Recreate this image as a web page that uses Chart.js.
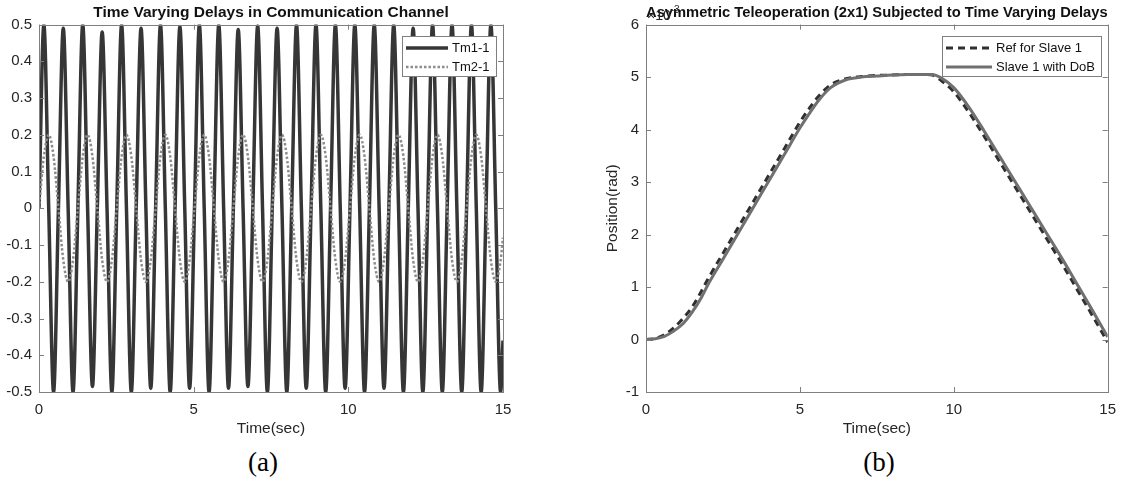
<!DOCTYPE html>
<html>
<head>
<meta charset="utf-8">
<script src="https://cdn.jsdelivr.net/npm/chart.js@4"></script>
<style>
  body { margin: 0; background: #fff; width: 1125px; height: 485px; position: relative; overflow: hidden; }
  canvas { position: absolute; top: 0; }
  #delayChart { left: 0; }
  #positionChart { left: 600px; }
  .caption { position: absolute; top: 447px; font: 27px "Liberation Serif", "Times New Roman", serif; color: #000; transform: translateX(-50%); }
</style>
</head>
<body>
<canvas id="delayChart" width="560" height="440"></canvas>
<canvas id="positionChart" width="525" height="440"></canvas>
<div class="caption" style="left:263px">(a)</div>
<div class="caption" style="left:879px">(b)</div>
<script>
// (a) delays at quarter periods of Tm1-1
const delayTime = [0, 0.157, 0.314, 0.471, 0.628, 0.785, 0.942, 1.100, 1.257, 1.414, 1.571, 1.728, 1.885, 2.042, 2.199, 2.356,
  2.513, 2.670, 2.827, 2.985, 3.142, 3.299, 3.456, 3.613, 3.770, 3.927, 4.084, 4.241, 4.398, 4.555, 4.712, 4.869,
  5.027, 5.184, 5.341, 5.498, 5.655, 5.812, 5.969, 6.126, 6.283, 6.440, 6.597, 6.754, 6.912, 7.069, 7.226, 7.383,
  7.540, 7.697, 7.854, 8.011, 8.168, 8.325, 8.482, 8.639, 8.796, 8.954, 9.111, 9.268, 9.425, 9.582, 9.739, 9.896,
  10.053, 10.210, 10.367, 10.524, 10.681, 10.838, 10.996, 11.153, 11.310, 11.467, 11.624, 11.781, 11.938, 12.095, 12.252, 12.409,
  12.566, 12.723, 12.881, 13.038, 13.195, 13.352, 13.509, 13.666, 13.823, 13.980, 14.137, 14.294, 14.451, 14.608, 14.765, 14.923, 15];
const tm1Delay = [0, 0.5, 0, -0.5, 0, 0.49, 0, -0.5, 0, 0.5, 0, -0.485, 0, 0.48, 0, -0.5,
  0, 0.5, 0, -0.5, 0, 0.49, 0, -0.49, 0, 0.5, 0, -0.5, 0, 0.495, 0, -0.49,
  0, 0.5, 0, -0.5, 0, 0.5, 0, -0.49, 0, 0.487, 0, -0.485, 0, 0.497, 0, -0.5,
  0, 0.49, 0, -0.5, 0, 0.5, 0, -0.49, 0, 0.5, 0, -0.5, 0, 0.5, 0, -0.49,
  0, 0.5, 0, -0.5, 0, 0.5, 0, -0.49, 0, 0.5, 0, -0.5, 0, 0.49, 0, -0.5,
  0, 0.5, 0, -0.5, 0, 0.5, 0, -0.5, 0, 0.5, 0, -0.5, 0, 0.5, 0, -0.5, -0.36];
const tm2Delay = [0, 0.141, 0.2, 0.141, 0, -0.141, -0.2, -0.141, 0, 0.141, 0.2, 0.141, 0, -0.141, -0.2, -0.141,
  0, 0.141, 0.2, 0.141, 0, -0.141, -0.2, -0.141, 0, 0.141, 0.2, 0.141, 0, -0.141, -0.2, -0.141,
  0, 0.141, 0.2, 0.141, 0, -0.141, -0.2, -0.141, 0, 0.141, 0.2, 0.141, 0, -0.141, -0.2, -0.141,
  0, 0.141, 0.2, 0.141, 0, -0.141, -0.2, -0.141, 0, 0.141, 0.2, 0.141, 0, -0.141, -0.2, -0.141,
  0, 0.141, 0.2, 0.141, 0, -0.141, -0.2, -0.141, 0, 0.141, 0.2, 0.141, 0, -0.141, -0.2, -0.141,
  0, 0.141, 0.2, 0.141, 0, -0.141, -0.2, -0.141, 0, 0.141, 0.2, 0.141, 0, -0.141, -0.2, -0.141, -0.08];
const delayXTicks = [0, 5, 10, 15];
const delayYTicks = [-0.5, -0.4, -0.3, -0.2, -0.1, 0, 0.1, 0.2, 0.3, 0.4, 0.5];

// (b) slave position (x10^-3 rad)
const posTime = [0, 0.3, 0.6, 0.9, 1.2, 1.5, 1.8, 2.0, 2.5, 3.0, 3.5, 4.0, 4.5, 5.0, 5.3, 5.6, 6.0, 6.5,
  7.0, 7.5, 8.0, 8.5, 9.0, 9.3, 9.6, 10.0, 10.5, 11.0, 11.5, 12.0, 12.5, 13.0, 13.5, 14.0, 14.5, 15.0];
const refSlave = [0, 0.02, 0.09, 0.22, 0.40, 0.62, 0.92, 1.14, 1.64, 2.14, 2.64, 3.14, 3.64, 4.14, 4.4, 4.63, 4.85, 4.97,
  5.01, 5.03, 5.04, 5.05, 5.05, 5.04, 4.93, 4.72, 4.32, 3.86, 3.38, 2.9, 2.42, 1.94, 1.46, 0.96, 0.46, -0.05];
const slaveDoB = [0, 0.015, 0.06, 0.16, 0.3, 0.52, 0.8, 1.03, 1.53, 2.03, 2.53, 3.03, 3.53, 4.03, 4.3, 4.55, 4.8, 4.95,
  5.0, 5.02, 5.04, 5.05, 5.05, 5.05, 4.98, 4.8, 4.42, 3.96, 3.48, 3.0, 2.52, 2.04, 1.56, 1.06, 0.56, 0.05];
const posXTicks = [0, 5, 10, 15];
const posYTicks = [-1, 0, 1, 2, 3, 4, 5, 6];

const FONT = '"Liberation Sans", Arial, Helvetica, sans-serif';
Chart.defaults.font.family = FONT;
Chart.defaults.color = '#262626';
const axisGrey = '#7f7f7f';

const pts = (xs, ys) => xs.map((x, i) => ({ x: x, y: ys[i] }));

// closed box with inward ticks like matlab
const boxAxes = {
  id: 'boxAxes',
  afterDatasetsDraw(chart) {
    const { ctx, chartArea: a, scales } = chart;
    ctx.save();
    ctx.strokeStyle = axisGrey;
    ctx.lineWidth = 1;
    ctx.beginPath();
    scales.x.ticks.forEach(t => {
      const px = Math.round(scales.x.getPixelForValue(t.value)) + 0.5;
      ctx.moveTo(px, a.bottom); ctx.lineTo(px, a.bottom - 5);
      ctx.moveTo(px, a.top); ctx.lineTo(px, a.top + 5);
    });
    scales.y.ticks.forEach(t => {
      const py = Math.round(scales.y.getPixelForValue(t.value)) + 0.5;
      ctx.moveTo(a.left, py); ctx.lineTo(a.left + 5, py);
      ctx.moveTo(a.right, py); ctx.lineTo(a.right - 5, py);
    });
    ctx.stroke();
    ctx.strokeRect(Math.round(a.left) + 0.5, Math.round(a.top) + 0.5,
      Math.round(a.right - a.left), Math.round(a.bottom - a.top));
    ctx.restore();
  }
};

// legend box inside the top right corner
const boxLegend = {
  id: 'boxLegend',
  afterDatasetsDraw(chart, args, opts) {
    const { ctx, chartArea: a } = chart;
    const items = chart.data.datasets;
    ctx.save();
    ctx.font = '13px ' + FONT;
    const textW = Math.max(...items.map(d => ctx.measureText(d.label).width));
    const w = Math.round(4 + opts.lineLen + 4 + textW + 6);
    const h = 40;
    const x = Math.round(a.right - 7 - w), y = Math.round(a.top + 11);
    ctx.fillStyle = '#fff';
    ctx.fillRect(x, y, w, h);
    ctx.strokeStyle = axisGrey;
    ctx.lineWidth = 1;
    ctx.strokeRect(x + 0.5, y + 0.5, w, h);
    items.forEach((d, i) => {
      const cy = y + 12 + i * 19;
      ctx.strokeStyle = d.borderColor;
      ctx.lineWidth = d.borderWidth;
      ctx.setLineDash(d.borderDash || []);
      ctx.beginPath();
      ctx.moveTo(x + 4, cy);
      ctx.lineTo(x + 4 + opts.lineLen, cy);
      ctx.stroke();
      ctx.setLineDash([]);
      ctx.fillStyle = '#111';
      ctx.textBaseline = 'middle';
      ctx.fillText(d.label, x + 8 + opts.lineLen, cy);
    });
    ctx.restore();
  }
};

// "x10^-3" multiplier above the y axis
const axisExponent = {
  id: 'axisExponent',
  afterDraw(chart, args, opts) {
    if (!opts.text) return;
    const { ctx, chartArea: a } = chart;
    ctx.save();
    ctx.fillStyle = '#262626';
    ctx.font = '14px ' + FONT;
    ctx.fillText('\u00d710', a.left + 1, a.top - 5);
    const w = ctx.measureText('\u00d710').width;
    ctx.font = '10px ' + FONT;
    ctx.fillText(opts.text, a.left + 1 + w, a.top - 12);
    ctx.restore();
  }
};

function axes(xTicks, yTicks, yMin, yMax, yWidth, yTitle) {
  return {
    x: {
      type: 'linear', min: 0, max: 15,
      afterBuildTicks: s => { s.ticks = xTicks.map(v => ({ value: v })); },
      ticks: { padding: 9, font: { size: 15 }, maxRotation: 0, callback: v => String(v) },
      grid: { display: false, tickLength: 0 }, border: { display: false },
      title: { display: true, text: 'Time(sec)', font: { size: 15.5 }, padding: { top: 0, bottom: 2 } },
      afterFit: s => { s.height = 48; }
    },
    y: {
      min: yMin, max: yMax,
      afterBuildTicks: s => { s.ticks = yTicks.map(v => ({ value: v })); },
      ticks: { padding: 7, font: { size: 15 }, callback: v => String(v) },
      grid: { display: false, tickLength: 0 }, border: { display: false },
      title: { display: !!yTitle, text: yTitle || '', font: { size: 15.5 }, padding: { top: 3, bottom: 0 } },
      afterFit: s => { s.width = yWidth; }
    }
  };
}

function titleOpts(text) {
  return { display: true, text: text, fullSize: false, color: '#111',
    font: { size: 15.5, weight: 'bold' }, padding: { top: 3, bottom: 3 } };
}

new Chart(document.getElementById('delayChart'), {
  type: 'line',
  data: {
    datasets: [
      { label: 'Tm1-1', data: pts(delayTime, tm1Delay), borderColor: '#363636', borderWidth: 3.5,
        pointRadius: 0, cubicInterpolationMode: 'monotone', clip: 0, order: 1 },
      { label: 'Tm2-1', data: pts(delayTime, tm2Delay), borderColor: '#8c8c8c', borderWidth: 2.5,
        borderDash: [2.5, 2], pointRadius: 0, cubicInterpolationMode: 'monotone', clip: 0, order: 0 }
    ]
  },
  options: {
    responsive: false, animation: false,
    layout: { padding: { right: 57 } },
    plugins: {
      legend: { display: false }, tooltip: { enabled: false },
      title: titleOpts('Time Varying Delays in Communication Channel'),
      boxLegend: { lineLen: 42 }
    },
    scales: axes(delayXTicks, delayYTicks, -0.5, 0.5, 39, null)
  },
  plugins: [boxAxes, boxLegend]
});

new Chart(document.getElementById('positionChart'), {
  type: 'line',
  data: {
    datasets: [
      { label: 'Ref for Slave 1', data: pts(posTime, refSlave), borderColor: '#303030', borderWidth: 3,
        borderDash: [7, 5], pointRadius: 0, cubicInterpolationMode: 'monotone', clip: 0, order: 1 },
      { label: 'Slave 1 with DoB', data: pts(posTime, slaveDoB), borderColor: '#707070', borderWidth: 3,
        pointRadius: 0, cubicInterpolationMode: 'monotone', clip: 0, order: 0 }
    ]
  },
  options: {
    responsive: false, animation: false,
    layout: { padding: { right: 15 } },
    plugins: {
      legend: { display: false }, tooltip: { enabled: false },
      title: titleOpts('Asymmetric Teleoperation (2x1) Subjected to Time Varying Delays'),
      boxLegend: { lineLen: 46 },
      axisExponent: { text: '-3' }
    },
    scales: axes(posXTicks, posYTicks, -1, 6, 46, 'Position(rad)')
  },
  plugins: [boxAxes, boxLegend, axisExponent]
});
</script>
</body>
</html>
